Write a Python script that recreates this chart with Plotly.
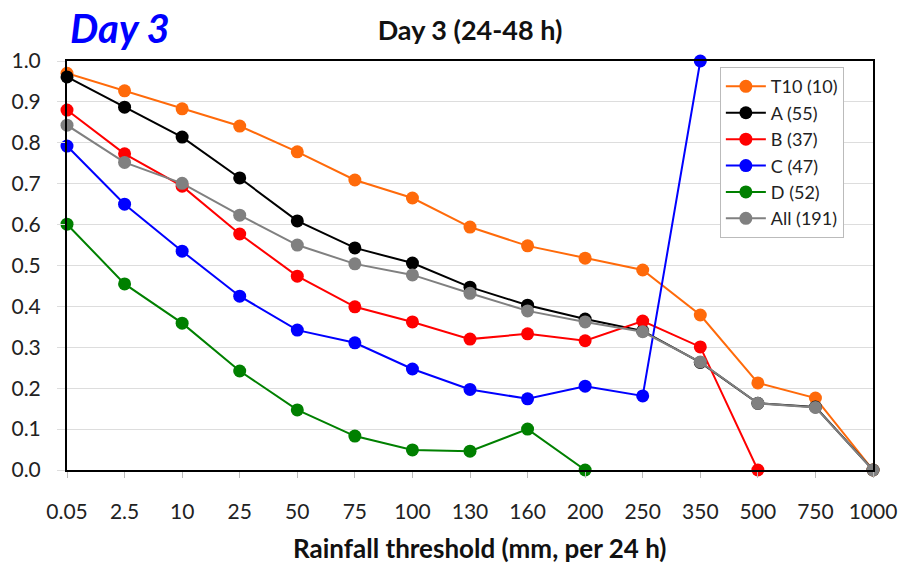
import plotly.graph_objects as go

# Rainfall thresholds (mm per 24 h), plotted as evenly spaced categories
thresholds = ["0.05", "2.5", "10", "25", "50", "75", "100", "130", "160",
              "200", "250", "350", "500", "750", "1000"]

t10 = [0.970, 0.927, 0.883, 0.841, 0.778, 0.709, 0.665, 0.594, 0.548,
       0.518, 0.489, 0.379, 0.213, 0.176, 0.0]
group_a = [0.961, 0.887, 0.814, 0.714, 0.609, 0.543, 0.506, 0.447, 0.403,
           0.369, 0.340, 0.263, 0.163, 0.154, 0.0]
group_b = [0.880, 0.773, 0.694, 0.577, 0.474, 0.399, 0.362, 0.320, 0.333,
           0.316, 0.364, 0.301, 0.0, None, None]
group_c = [0.792, 0.650, 0.535, 0.425, 0.342, 0.311, 0.247, 0.197, 0.174,
           0.205, 0.181, 1.0, None, None, None]
group_d = [0.601, 0.455, 0.359, 0.242, 0.147, 0.083, 0.049, 0.046, 0.100,
           0.0, None, None, None, None, None]
all_stations = [0.843, 0.752, 0.701, 0.623, 0.550, 0.504, 0.477, 0.432,
                0.389, 0.362, 0.338, 0.264, 0.163, 0.153, 0.0]

series = [
    ("T10 (10)", t10, "#FF6A0A"),
    ("A (55)", group_a, "#000000"),
    ("B (37)", group_b, "#FF0000"),
    ("C (47)", group_c, "#0000FF"),
    ("D (52)", group_d, "#008000"),
    ("All (191)", all_stations, "#808080"),
]

FONT = "Lato, Open Sans, sans-serif"

fig = go.Figure()
for name, values, color in series:
    fig.add_trace(go.Scatter(
        x=thresholds, y=values, name=name, mode="lines+markers",
        line=dict(color=color, width=2),
        marker=dict(color=color, size=13),
        connectgaps=False, cliponaxis=False,
    ))

fig.update_layout(
    width=903, height=563,
    margin=dict(l=67, r=30, t=61, b=93),
    paper_bgcolor="white", plot_bgcolor="white",
    font=dict(family=FONT, size=21, color="#222222"),
    title=dict(text="<b>Day 3 (24-48 h)</b>", x=470 / 903, xanchor="center",
               xref="container", y=1 - 31 / 563, yanchor="middle",
               yref="container", font=dict(size=27, color="#111111")),
    legend=dict(x=0.81, xanchor="left", y=0.985, yanchor="top",
                bgcolor="white", bordercolor="#BBBBBB", borderwidth=1,
                font=dict(size=18), tracegroupgap=0, itemwidth=40),
    showlegend=True,
)

fig.update_xaxes(
    type="category", range=[0, 14], automargin=False,
    showline=True, linecolor="black", linewidth=2, mirror=True,
    showgrid=False, zeroline=False,
    ticks="outside", ticklen=6, tickcolor="#BBBBBB",
    ticklabelstandoff=16,
)
fig.update_yaxes(
    range=[0, 1.0], dtick=0.1, tickformat=".1f", automargin=False,
    showline=True, linecolor="black", linewidth=2, mirror=True,
    showgrid=True, gridcolor="#DDDDDD", gridwidth=1, zeroline=False,
    ticks="outside", ticklen=8, tickcolor="#DDDDDD",
    ticklabelstandoff=12,
)

# x-axis title placed below the tick labels
fig.add_annotation(
    text="<b>Rainfall threshold (mm, per 24 h)</b>", xref="paper", yref="paper",
    x=(480 - 67) / 806, y=(470 - 548) / 409, xanchor="center", yanchor="middle",
    showarrow=False, font=dict(family=FONT, size=26, color="#111111"),
)

fig.add_annotation(
    text="<b><i>Day 3</i></b>", xref="paper", yref="paper",
    x=(120 - 67) / 806, y=(470 - 28) / 409, xanchor="center", yanchor="middle",
    showarrow=False, font=dict(family=FONT, size=40, color="#0000FF"),
)

fig.write_html("out.html")
